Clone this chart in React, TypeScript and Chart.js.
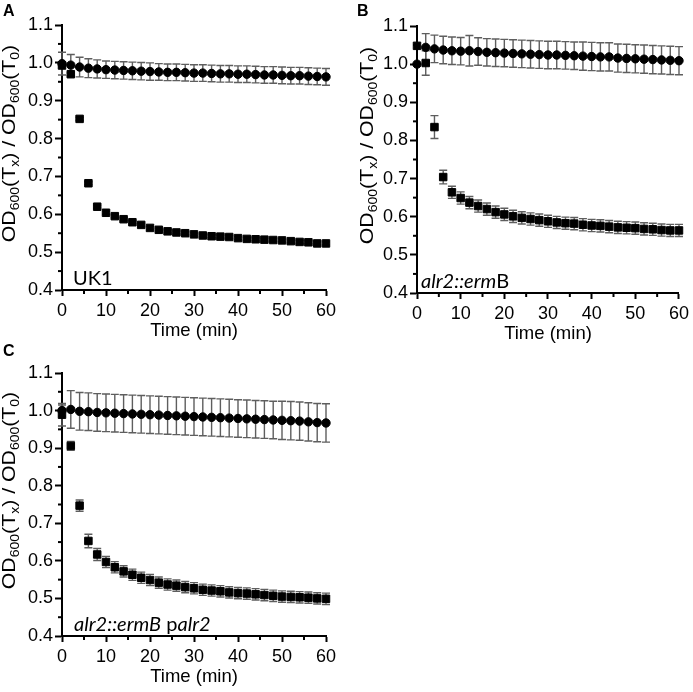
import React, { useEffect, useRef } from "react";
import { Chart, registerables } from "chart.js";

Chart.register(...registerables);

// ---------- data ----------
const TIME = [0, 2, 4, 6, 8, 10, 12, 14, 16, 18, 20, 22, 24, 26, 28, 30, 32, 34, 36, 38, 40, 42, 44, 46, 48, 50, 52, 54, 56, 58, 60];

const A_CIRCLE = [0.998, 0.994, 0.989, 0.986, 0.984, 0.982, 0.981, 0.98, 0.979, 0.978, 0.977, 0.976, 0.975, 0.975, 0.974, 0.973, 0.973, 0.972, 0.971, 0.971, 0.97, 0.97, 0.969, 0.968, 0.968, 0.967, 0.966, 0.966, 0.965, 0.964, 0.963];
const A_CIRCLE_ERR = [0.03, 0.028, 0.026, 0.025, 0.024, 0.023, 0.023, 0.023, 0.023, 0.023, 0.023, 0.022, 0.022, 0.022, 0.022, 0.022, 0.022, 0.022, 0.022, 0.022, 0.022, 0.022, 0.022, 0.022, 0.022, 0.022, 0.022, 0.022, 0.022, 0.022, 0.022];
const A_SQUARE = [0.993, 0.97, 0.852, 0.682, 0.62, 0.604, 0.595, 0.587, 0.579, 0.572, 0.564, 0.559, 0.555, 0.552, 0.55, 0.547, 0.544, 0.542, 0.541, 0.54, 0.537, 0.535, 0.534, 0.533, 0.532, 0.531, 0.529, 0.527, 0.526, 0.523, 0.523];
const A_SQUARE_ERR = [0.004, 0.004, 0.004, 0.004, 0.004, 0.004, 0.004, 0.004, 0.004, 0.004, 0.004, 0.004, 0.004, 0.004, 0.004, 0.004, 0.004, 0.004, 0.004, 0.004, 0.004, 0.004, 0.004, 0.004, 0.004, 0.004, 0.004, 0.004, 0.004, 0.004, 0.004];

const B_CIRCLE = [1.0, 1.044, 1.04, 1.037, 1.035, 1.034, 1.035, 1.033, 1.031, 1.03, 1.029, 1.028, 1.027, 1.026, 1.025, 1.024, 1.024, 1.023, 1.022, 1.021, 1.02, 1.019, 1.019, 1.016, 1.015, 1.014, 1.013, 1.012, 1.011, 1.01, 1.009];
const B_CIRCLE_ERR = [0.0, 0.036, 0.036, 0.036, 0.036, 0.036, 0.04, 0.036, 0.036, 0.036, 0.036, 0.036, 0.036, 0.036, 0.036, 0.036, 0.036, 0.036, 0.036, 0.037, 0.037, 0.037, 0.037, 0.037, 0.037, 0.037, 0.037, 0.037, 0.037, 0.037, 0.037];
const B_SQUARE = [1.048, 1.003, 0.835, 0.704, 0.664, 0.649, 0.637, 0.628, 0.62, 0.612, 0.606, 0.601, 0.597, 0.594, 0.591, 0.588, 0.585, 0.583, 0.582, 0.579, 0.577, 0.576, 0.574, 0.572, 0.571, 0.57, 0.568, 0.567, 0.565, 0.564, 0.564];
const B_SQUARE_ERR = [0.0, 0.032, 0.03, 0.018, 0.016, 0.016, 0.016, 0.016, 0.016, 0.016, 0.016, 0.016, 0.016, 0.016, 0.016, 0.016, 0.016, 0.016, 0.016, 0.016, 0.016, 0.016, 0.016, 0.016, 0.016, 0.016, 0.016, 0.016, 0.016, 0.016, 0.016];

const C_CIRCLE = [1.0, 1.003, 0.998, 0.997, 0.995, 0.994, 0.993, 0.992, 0.991, 0.99, 0.989, 0.988, 0.987, 0.986, 0.985, 0.984, 0.983, 0.982, 0.981, 0.98, 0.979, 0.978, 0.977, 0.976, 0.975, 0.974, 0.973, 0.972, 0.97, 0.968, 0.967];
const C_CIRCLE_ERR = [0.015, 0.05, 0.05, 0.05, 0.05, 0.05, 0.05, 0.05, 0.05, 0.05, 0.05, 0.05, 0.05, 0.05, 0.05, 0.05, 0.05, 0.05, 0.05, 0.05, 0.05, 0.05, 0.05, 0.05, 0.05, 0.051, 0.051, 0.051, 0.051, 0.051, 0.051];
const C_SQUARE = [0.989, 0.906, 0.747, 0.653, 0.617, 0.597, 0.583, 0.572, 0.563, 0.555, 0.549, 0.542, 0.537, 0.534, 0.53, 0.527, 0.523, 0.521, 0.519, 0.516, 0.514, 0.513, 0.511, 0.509, 0.507, 0.505, 0.504, 0.503, 0.502, 0.5, 0.499];
const C_SQUARE_ERR = [0.03, 0.012, 0.015, 0.018, 0.016, 0.015, 0.015, 0.015, 0.015, 0.015, 0.015, 0.015, 0.015, 0.015, 0.015, 0.015, 0.015, 0.015, 0.015, 0.015, 0.015, 0.015, 0.015, 0.015, 0.015, 0.015, 0.015, 0.015, 0.015, 0.015, 0.015];

const X_MIN = 0;
const X_MAX = 60;
const X_STEP = 10;
const Y_MIN = 0.4;
const Y_MAX = 1.1;
const Y_STEP = 0.1;

const X_TITLE = "Time (min)";
// y title pieces: [text, isSubscript]
const Y_TITLE: [string, boolean][] = [
  ["OD", false], ["600", true], ["(T", false], ["x", true], [") / OD", false], ["600", true], ["(T", false], ["0", true], [")", false],
];

const A_LABEL: [string, boolean][] = [["UK1", false]];
const B_LABEL: [string, boolean][] = [["alr2::erm", true], ["B", false]];
const C_LABEL: [string, boolean][] = [["alr2::ermB", true], [" p", false], ["alr2", true]];

const FONT = "'Liberation Sans', Arial, sans-serif";
const LABEL_FONT = "Lato, 'Open Sans', sans-serif";

type PanelDef = {
  letter: string;
  label: [string, boolean][];
  circle: number[];
  circleErr: number[];
  square: number[];
  squareErr: number[];
  left: number;
  top: number;
  width: number;
  height: number;
  area: { l: number; t: number; r: number; b: number };
  titleX: number;
  labelDx: number;
  xTitleDy: number;
};

const PANELS: PanelDef[] = [
  { letter: "A", label: A_LABEL, circle: A_CIRCLE, circleErr: A_CIRCLE_ERR, square: A_SQUARE, squareErr: A_SQUARE_ERR,
    left: 0, top: 0, width: 346, height: 346, area: { l: 62, t: 25, r: 20, b: 290 }, titleX: 15, labelDx: 11, xTitleDy: 46 },
  { letter: "B", label: B_LABEL, circle: B_CIRCLE, circleErr: B_CIRCLE_ERR, square: B_SQUARE, squareErr: B_SQUARE_ERR,
    left: 346, top: 0, width: 347, height: 346, area: { l: 71, t: 26, r: 10, b: 293 }, titleX: 27, labelDx: 4, xTitleDy: 46 },
  { letter: "C", label: C_LABEL, circle: C_CIRCLE, circleErr: C_CIRCLE_ERR, square: C_SQUARE, squareErr: C_SQUARE_ERR,
    left: 0, top: 340, width: 346, height: 352, area: { l: 62, t: 33, r: 20, b: 296 }, titleX: 15, labelDx: 12, xTitleDy: 46 },
];

function makePlugin(p: PanelDef) {
  return {
    id: "overlay" + p.letter,
    beforeDatasetsDraw(chart: any) {
      const ctx = chart.ctx;
      const xs = chart.scales.x;
      const ys = chart.scales.y;
      ctx.save();
      ctx.strokeStyle = "#5e5e5e";
      ctx.lineWidth = 1.4;
      chart.data.datasets.forEach((ds: any) => {
        const errs: number[] = ds.errors || [];
        ds.data.forEach((pt: any, j: number) => {
          const e = errs[j] || 0;
          if (!e) return;
          const x = xs.getPixelForValue(pt.x);
          const y1 = ys.getPixelForValue(pt.y + e);
          const y2 = ys.getPixelForValue(pt.y - e);
          ctx.beginPath();
          ctx.moveTo(x, y1);
          ctx.lineTo(x, y2);
          ctx.moveTo(x - 4, y1);
          ctx.lineTo(x + 4, y1);
          ctx.moveTo(x - 4, y2);
          ctx.lineTo(x + 4, y2);
          ctx.stroke();
        });
      });
      ctx.restore();
    },
    afterDraw(chart: any) {
      const ctx = chart.ctx;
      const area = chart.chartArea;
      const xs = chart.scales.x;
      const ys = chart.scales.y;
      ctx.save();
      // minor ticks
      ctx.strokeStyle = "#000";
      ctx.lineWidth = 2;
      const yt = ys.ticks.map((t: any) => t.value);
      for (let i = 0; i < yt.length - 1; i++) {
        const y = ys.getPixelForValue((yt[i] + yt[i + 1]) / 2);
        ctx.beginPath();
        ctx.moveTo(area.left - 4, y);
        ctx.lineTo(area.left, y);
        ctx.stroke();
      }
      const xt = xs.ticks.map((t: any) => t.value);
      for (let i = 0; i < xt.length - 1; i++) {
        const x = xs.getPixelForValue((xt[i] + xt[i + 1]) / 2);
        ctx.beginPath();
        ctx.moveTo(x, area.bottom);
        ctx.lineTo(x, area.bottom + 4);
        ctx.stroke();
      }
      ctx.fillStyle = "#000";
      // panel letter
      ctx.font = "bold 16px " + FONT;
      ctx.textAlign = "left";
      ctx.textBaseline = "alphabetic";
      ctx.fillText(p.letter, p.letter === "B" ? 11 : 3, 16);
      // x title
      ctx.font = "18.5px " + FONT;
      ctx.textAlign = "center";
      ctx.fillText(X_TITLE, (area.left + area.right) / 2, area.bottom + p.xTitleDy);
      // y title with subscripts
      const mainF = "19px " + FONT;
      const subF = "12.5px " + FONT;
      ctx.textAlign = "left";
      let total = 0;
      Y_TITLE.forEach(([s, sub]) => {
        ctx.font = sub ? subF : mainF;
        total += ctx.measureText(s).width;
      });
      const stretch = 1.12;
      const cy = (area.top + area.bottom) / 2 - 14;
      ctx.translate(p.titleX, cy);
      ctx.rotate(-Math.PI / 2);
      ctx.scale(stretch, 1);
      let cx = -total / 2;
      Y_TITLE.forEach(([s, sub]) => {
        ctx.font = sub ? subF : mainF;
        ctx.fillText(s, cx, sub ? 4 : 0);
        cx += ctx.measureText(s).width;
      });
      ctx.setTransform(1, 0, 0, 1, 0, 0);
      // in-plot label
      let lx = area.left + p.labelDx;
      const ly = area.bottom - 5;
      p.label.forEach(([s, it]) => {
        ctx.font = (it ? "italic " : "") + "20px " + LABEL_FONT;
        ctx.fillText(s, lx, ly);
        lx += ctx.measureText(s).width;
      });
      ctx.restore();
    },
  };
}

function Panel({ p }: { p: PanelDef }) {
  const ref = useRef<HTMLCanvasElement | null>(null);
  useEffect(() => {
    if (!ref.current) return;
    const circlePts = TIME.map((t, i) => ({ x: t, y: p.circle[i] }));
    const squarePts = TIME.map((t, i) => ({ x: t, y: p.square[i] }));
    const chart = new Chart(ref.current, {
      type: "scatter",
      data: {
        datasets: [
          {
            data: circlePts,
            errors: p.circleErr,
            pointStyle: "circle",
            pointRadius: 4.2,
            pointBorderWidth: 1,
            backgroundColor: "#000",
            borderColor: "#000",
            showLine: false,
            clip: false,
          } as any,
          {
            data: squarePts,
            errors: p.squareErr,
            pointStyle: "rect",
            pointRadius: 5.3,
            pointBorderWidth: 1,
            backgroundColor: "#000",
            borderColor: "#000",
            showLine: false,
            clip: false,
          } as any,
        ],
      },
      options: {
        responsive: false,
        animation: false,
        events: [],
        layout: { padding: { left: 0, top: p.area.t, right: p.area.r, bottom: 0 } },
        plugins: { legend: { display: false }, tooltip: { enabled: false } },
        scales: {
          x: {
            type: "linear",
            min: X_MIN,
            max: X_MAX,
            afterFit: (s: any) => { s.height = p.height - p.area.b; },
            ticks: { stepSize: X_STEP, color: "#000", font: { family: FONT, size: 18 }, padding: 4, maxRotation: 0 },
            grid: { drawOnChartArea: false, drawTicks: true, tickLength: 6, tickWidth: 2, tickColor: "#000" },
            border: { display: true, color: "#000", width: 2 },
          },
          y: {
            type: "linear",
            min: Y_MIN,
            max: Y_MAX,
            afterFit: (s: any) => { s.width = p.area.l; },
            ticks: { stepSize: Y_STEP, color: "#000", font: { family: FONT, size: 18 }, padding: 2, callback: (v: any) => Number(v).toFixed(1) },
            grid: { drawOnChartArea: false, drawTicks: true, tickLength: 7, tickWidth: 2, tickColor: "#000" },
            border: { display: true, color: "#000", width: 2 },
          },
        },
      },
      plugins: [makePlugin(p)],
    } as any);
    return () => chart.destroy();
  }, [p]);
  return (
    <canvas
      ref={ref}
      width={p.width}
      height={p.height}
      style={{ position: "absolute", left: p.left, top: p.top, width: p.width, height: p.height }}
    />
  );
}

export default function App() {
  return (
    <div style={{ position: "fixed", left: 0, top: 0, width: 693, height: 692, background: "#fff", overflow: "hidden" }}>
      {PANELS.map((p) => (
        <Panel key={p.letter} p={p} />
      ))}
    </div>
  );
}
